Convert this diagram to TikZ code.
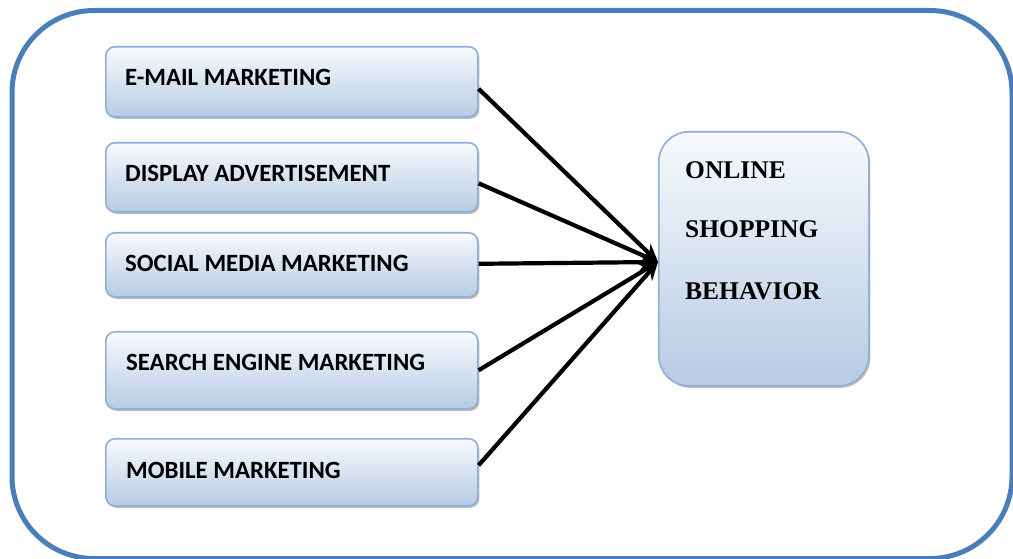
\documentclass[tikz,border=0pt]{standalone}
\usepackage{fontspec}
\setmainfont{Liberation Serif}
\newfontfamily\calib{Carlito}
\usetikzlibrary{shadows,arrows.meta}
\definecolor{frameblue}{HTML}{4A7EBB}
\definecolor{boxedge}{HTML}{8DB0DA}
\definecolor{boxlow}{HTML}{B7CBE4}
\definecolor{boxhigh}{HTML}{F8FAFD}
\tikzset{
  factor/.style={draw=boxedge, line width=1.6pt, rounded corners=9pt,
    top color=boxhigh, bottom color=boxlow, anchor=north west,
    minimum width=372pt, inner sep=0pt,
    drop shadow={shadow xshift=1.5pt, shadow yshift=-2pt, fill=black!45, opacity=0.6}},
  outcome/.style={factor, rounded corners=30pt, minimum width=210pt, minimum height=254pt},
  factortext/.style={anchor=west, inner sep=0pt, font=\calib\bfseries\fontsize{24.8}{28}\selectfont},
  outcometext/.style={anchor=west, inner sep=0pt, font=\bfseries\fontsize{25.5}{30}\selectfont},
  conn/.style={line width=4.2pt, -{Stealth[length=18pt,width=16pt]}}
}
\begin{document}
\begin{tikzpicture}[x=1pt,y=-1pt]
\useasboundingbox (0,0) rectangle (1013,559);
% outer frame
\draw[frameblue, line width=5pt, rounded corners=82pt] (12,10.5) rectangle (1012,558.5);

% factor boxes
\node[factor, minimum height=70pt] (b1) at (105,46) {};
\node[factor, minimum height=69pt] (b2) at (105,142) {};
\node[factor, minimum height=64pt] (b3) at (105,232) {};
\node[factor, minimum height=77pt] (b4) at (105,331) {};
\node[factor, minimum height=67pt] (b5) at (105,438) {};

\node[factortext] (t1) at (125,77) {E-MAIL MARKETING};
\node[factortext] (t2) at (125,173) {DISPLAY ADVERTISEMENT};
\node[factortext] (t3) at (125,263) {SOCIAL MEDIA MARKETING};
\node[factortext] (t4) at (126,362) {SEARCH ENGINE MARKETING};
\node[factortext] (t5) at (126,470) {MOBILE MARKETING};

% outcome box
\node[outcome] (osb) at (658,131) {};
\node[outcometext] (o1) at (685,170) {ONLINE};
\node[outcometext] (o2) at (685,229) {SHOPPING};
\node[outcometext] (o3) at (685,291) {BEHAVIOR};

% connectors
\coordinate (tip) at (osb.west |- 0,262);
\draw[conn] ([yshift=-7pt]b1.east) -- (tip);
\draw[conn] ([yshift=-6pt]b2.east) -- (tip);
\draw[conn] ([yshift=1pt]b3.east) -- (tip);
\draw[conn] (b4.east) -- (tip);
\draw[conn] ([yshift=7pt]b5.east) -- (tip);
\end{tikzpicture}
\end{document}
